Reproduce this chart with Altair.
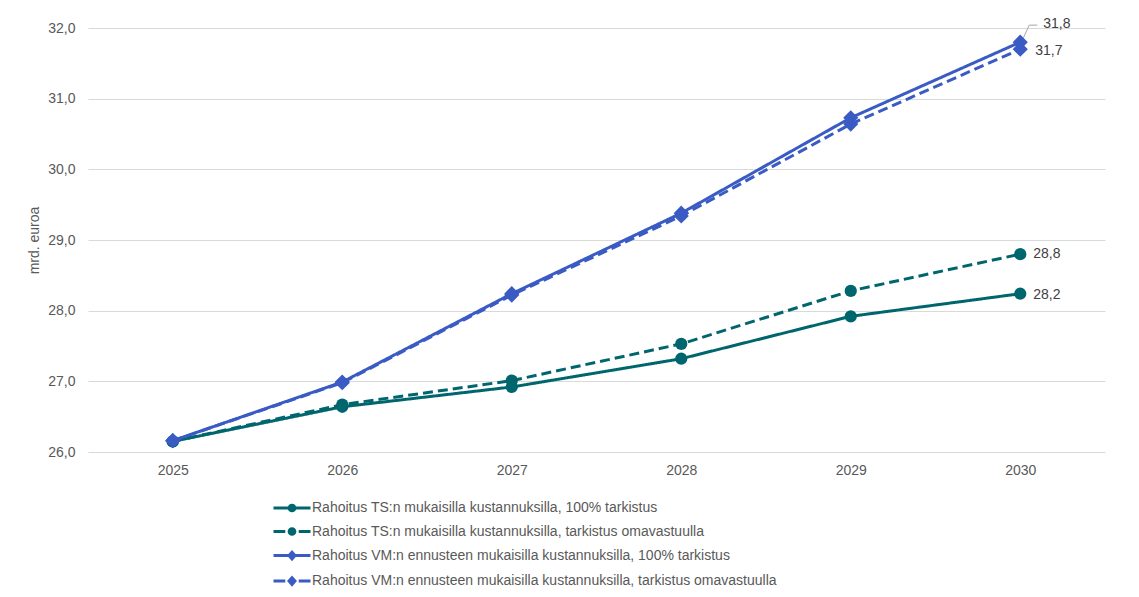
import altair as alt
import pandas as pd

# ---- data ----
years = ["2025", "2026", "2027", "2028", "2029", "2030"]
series = [
    "Rahoitus TS:n mukaisilla kustannuksilla, 100% tarkistus",
    "Rahoitus TS:n mukaisilla kustannuksilla,  tarkistus omavastuulla",
    "Rahoitus VM:n ennusteen mukaisilla kustannuksilla, 100% tarkistus",
    "Rahoitus VM:n ennusteen mukaisilla kustannuksilla, tarkistus omavastuulla",
]
ts_100 = [26.15, 26.64, 26.92, 27.32, 27.92, 28.24]
ts_oma = [26.15, 26.67, 27.01, 27.53, 28.28, 28.80]
vm_100 = [26.16, 26.99, 28.24, 29.38, 30.73, 31.80]
vm_oma = [26.16, 26.98, 28.22, 29.34, 30.64, 31.70]
y_ticks = [26, 27, 28, 29, 30, 31, 32]

values = [ts_100, ts_oma, vm_100, vm_oma]

# ---- styles ----
TEAL = "#00666E"
BLUE = "#3A5BC4"
colors = [TEAL, TEAL, BLUE, BLUE]
dashes = [[1, 0], [10, 5], [1, 0], [10, 5]]
shapes = ["circle", "circle", "diamond", "diamond"]
sizes = [150, 150, 230, 230]
FONT = "Liberation Sans"
GREY = "#595959"
FS = 14

rows = []
for s, vals, c, sh, sz in zip(series, values, colors, shapes, sizes):
    for yr, v in zip(years, vals):
        rows.append({"year": yr, "value": v, "series": s, "color": c,
                     "shape": sh, "msize": sz,
                     "label": f"{v:.1f}".replace(".", ",")})
df = pd.DataFrame(rows)

# legend symbols (line + marker) as custom SVG paths
circ = "M0.62,0A0.62,0.62,0,1,1,-0.62,0A0.62,0.62,0,1,1,0.62,0Z"
diam = "M0,-0.72L0.64,0L0,0.72L-0.64,0Z"
solid = "M-4,0H4"
dashed = "M-4,0H-1.45M1.45,0H4"

base = alt.Chart(df)

x_enc = alt.X("year:O", scale=alt.Scale(type="point", padding=0.5), sort=years,
              axis=alt.Axis(title=None, domain=False, ticks=False, grid=False,
                            labelAngle=0, labelPadding=11))
y_enc = alt.Y("value:Q", scale=alt.Scale(domain=[26, 32], nice=False, zero=False),
              axis=alt.Axis(title="mrd. euroa", values=y_ticks, domain=False, ticks=False,
                            grid=True, gridColor="#d9d9d9", gridWidth=1,
                            labelPadding=13, titlePadding=6,
                            labelExpr="replace(format(datum.value, '.1f'), '.', ',')"))

lines = base.mark_line(strokeWidth=3).encode(
    x=x_enc, y=y_enc,
    color=alt.Color("color:N", scale=None),
    strokeDash=alt.StrokeDash("series:N", scale=alt.Scale(domain=series, range=dashes), legend=None),
    detail="series:N",
)

points = base.mark_point(filled=True, opacity=1).encode(
    x=x_enc, y=y_enc,
    color=alt.Color("color:N", scale=None),
    shape=alt.Shape("shape:N", scale=None),
    size=alt.Size("msize:Q", scale=None),
    detail="series:N",
)

ROW = 24.3
col_scale = alt.Scale(domain=series, range=colors)

def legend_layer(names, col, marker, y0):
    props = dict(
        title=None, orient="none", legendX=197, legendY=y0, direction="vertical",
        labelFont=FONT, labelFontSize=FS, labelColor=GREY, labelLimit=800,
        symbolSize=85.56, symbolStrokeWidth=3, labelOffset=13, rowPadding=5.5,
        symbolOpacity=1, symbolFillColor=col, symbolStrokeColor=col,
    )
    return base.transform_filter(
        alt.FieldOneOfPredicate(field="series", oneOf=names)
    ).mark_point(filled=True, strokeWidth=3, opacity=0).encode(
        x=x_enc, y=y_enc,
        fill=alt.Fill("series:N", scale=col_scale, legend=None),
        stroke=alt.Stroke("series:N", scale=col_scale, legend=None),
        shape=alt.Shape("series:N", sort=names,
                        scale=alt.Scale(domain=names, range=[solid + marker, dashed + marker]),
                        legend=alt.Legend(**props)),
    )

leg_ts = legend_layer(series[:2], TEAL, circ, 473)
leg_vm = legend_layer(series[2:], BLUE, diam, 472 + 2 * ROW)

last = years[-1]
label_offsets = {series[0]: (13, 1), series[1]: (13, 0), series[2]: (23, -18), series[3]: (15, 2)}
text_layers = []
for s in series:
    dx, dy = label_offsets[s]
    text_layers.append(
        base.transform_filter((alt.datum.series == s) & (alt.datum.year == last))
        .mark_text(align="left", baseline="middle", dx=dx, dy=dy, fontSize=FS,
                   font=FONT, color="#404040")
        .encode(x=x_enc, y=y_enc, text="label:N")
    )

lead_src = base.transform_filter((alt.datum.series == series[2]) & (alt.datum.year == last))
lead1 = lead_src.mark_rule(color="#a6a6a6", strokeWidth=1, xOffset=3, yOffset=-4,
                           x2Offset=9, y2Offset=-17).encode(
    x=x_enc, y=y_enc, x2=alt.X2("year"), y2=alt.Y2("value"))
lead2 = lead_src.mark_rule(color="#a6a6a6", strokeWidth=1, xOffset=9, yOffset=-17,
                           x2Offset=17, y2Offset=-17).encode(
    x=x_enc, y=y_enc, x2=alt.X2("year"), y2=alt.Y2("value"))

chart = alt.layer(lines, points, leg_ts, leg_vm, lead1, lead2, *text_layers).resolve_scale(
    shape="independent"
).properties(
    width=1017, height=424,
    autosize=alt.AutoSizeParams(type="none"),
    padding={"left": 80, "top": 20, "right": 10, "bottom": 137},
    background="white",
).configure_view(stroke=None).configure_axis(
    labelFont=FONT, labelFontSize=FS, labelColor=GREY,
    titleFont=FONT, titleFontSize=FS, titleColor=GREY, titleFontWeight="normal",
)

chart.save("out.html", embed_options={"renderer": "svg", "actions": False})
